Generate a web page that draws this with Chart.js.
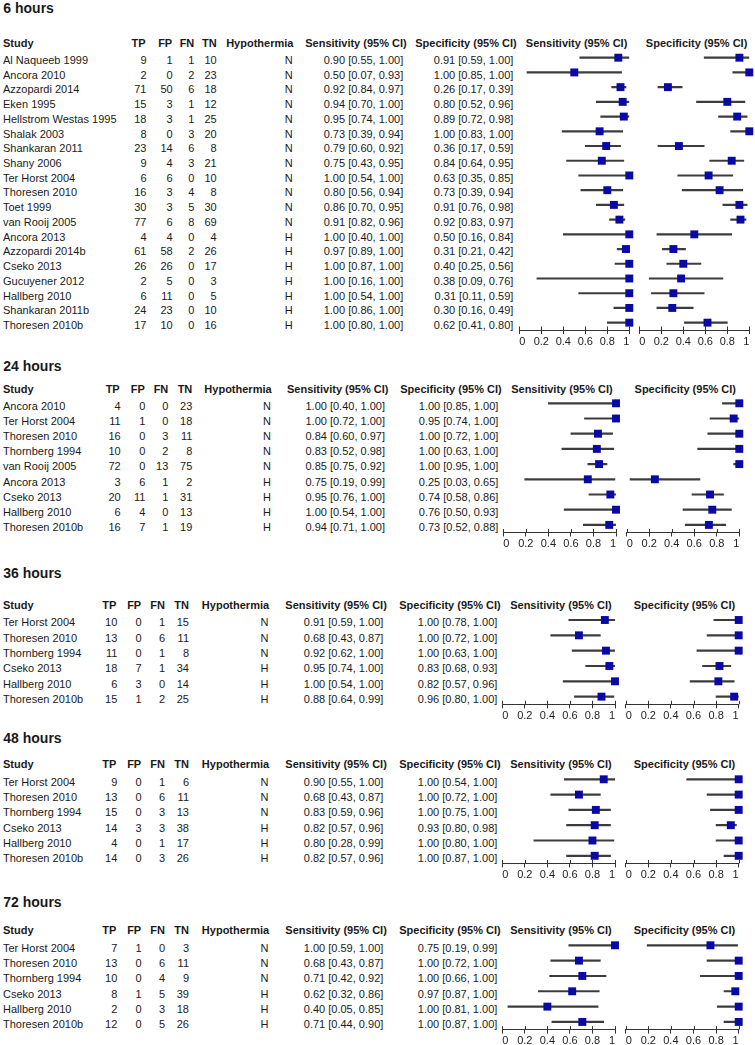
<!DOCTYPE html>
<html>
<head>
<meta charset="utf-8">
<script src="https://cdn.jsdelivr.net/npm/chart.js@4.4.1/dist/chart.umd.min.js"></script>
<style>
  body { margin: 0; background: #fff; }
  #page { position: relative; width: 755px; height: 1045px; overflow: hidden; background: #fff;
          font-family: "Liberation Sans", Arial, sans-serif; color: #1a1a1a; }
  .t { position: absolute; font-size: 11px; line-height: 14px; height: 14px; white-space: nowrap; }
  .b { font-weight: bold; }
  .ttl { position: absolute; font-size: 14px; line-height: 16px; font-weight: bold; white-space: nowrap; }
  canvas { position: absolute; }
</style>
</head>
<body>
<div id="page"></div>
<script>
// ---- data ----
const colHeads = ['Study', 'TP', 'FP', 'FN', 'TN', 'Hypothermia', 'Sensitivity (95% CI)', 'Specificity (95% CI)'];
const plotHeads = ['Sensitivity (95% CI)', 'Specificity (95% CI)'];
const axisTicks = [0, 0.2, 0.4, 0.6, 0.8, 1];

// 6 hours
const study6 = ['Al Naqueeb 1999', 'Ancora 2010', 'Azzopardi 2014', 'Eken 1995', 'Hellstrom Westas 1995',
  'Shalak 2003', 'Shankaran 2011', 'Shany 2006', 'Ter Horst 2004', 'Thoresen 2010', 'Toet 1999',
  'van Rooij 2005', 'Ancora 2013', 'Azzopardi 2014b', 'Cseko 2013', 'Gucuyener 2012', 'Hallberg 2010',
  'Shankaran 2011b', 'Thoresen 2010b'];
const tp6 = [9, 2, 71, 15, 18, 8, 23, 9, 6, 16, 30, 77, 4, 61, 26, 2, 6, 24, 17];
const fp6 = [1, 0, 50, 3, 3, 0, 14, 4, 6, 3, 3, 6, 4, 58, 26, 5, 11, 23, 10];
const fn6 = [1, 2, 6, 1, 1, 3, 6, 3, 0, 4, 5, 8, 0, 2, 0, 0, 0, 0, 0];
const tn6 = [10, 23, 18, 12, 25, 20, 8, 21, 10, 8, 30, 69, 4, 26, 17, 3, 5, 10, 16];
const hypo6 = ['N', 'N', 'N', 'N', 'N', 'N', 'N', 'N', 'N', 'N', 'N', 'N', 'H', 'H', 'H', 'H', 'H', 'H', 'H'];
const sens6 = [[0.90, 0.55, 1.00], [0.50, 0.07, 0.93], [0.92, 0.84, 0.97], [0.94, 0.70, 1.00], [0.95, 0.74, 1.00],
  [0.73, 0.39, 0.94], [0.79, 0.60, 0.92], [0.75, 0.43, 0.95], [1.00, 0.54, 1.00], [0.80, 0.56, 0.94],
  [0.86, 0.70, 0.95], [0.91, 0.82, 0.96], [1.00, 0.40, 1.00], [0.97, 0.89, 1.00], [1.00, 0.87, 1.00],
  [1.00, 0.16, 1.00], [1.00, 0.54, 1.00], [1.00, 0.86, 1.00], [1.00, 0.80, 1.00]];
const spec6 = [[0.91, 0.59, 1.00], [1.00, 0.85, 1.00], [0.26, 0.17, 0.39], [0.80, 0.52, 0.96], [0.89, 0.72, 0.98],
  [1.00, 0.83, 1.00], [0.36, 0.17, 0.59], [0.84, 0.64, 0.95], [0.63, 0.35, 0.85], [0.73, 0.39, 0.94],
  [0.91, 0.76, 0.98], [0.92, 0.83, 0.97], [0.50, 0.16, 0.84], [0.31, 0.21, 0.42], [0.40, 0.25, 0.56],
  [0.38, 0.09, 0.76], [0.31, 0.11, 0.59], [0.30, 0.16, 0.49], [0.62, 0.41, 0.80]];

// 24 hours
const study24 = ['Ancora 2010', 'Ter Horst 2004', 'Thoresen 2010', 'Thornberg 1994', 'van Rooij 2005',
  'Ancora 2013', 'Cseko 2013', 'Hallberg 2010', 'Thoresen 2010b'];
const tp24 = [4, 11, 16, 10, 72, 3, 20, 6, 16];
const fp24 = [0, 1, 0, 0, 0, 6, 11, 4, 7];
const fn24 = [0, 0, 3, 2, 13, 1, 1, 0, 1];
const tn24 = [23, 18, 11, 8, 75, 2, 31, 13, 19];
const hypo24 = ['N', 'N', 'N', 'N', 'N', 'H', 'H', 'H', 'H'];
const sens24 = [[1.00, 0.40, 1.00], [1.00, 0.72, 1.00], [0.84, 0.60, 0.97], [0.83, 0.52, 0.98], [0.85, 0.75, 0.92],
  [0.75, 0.19, 0.99], [0.95, 0.76, 1.00], [1.00, 0.54, 1.00], [0.94, 0.71, 1.00]];
const spec24 = [[1.00, 0.85, 1.00], [0.95, 0.74, 1.00], [1.00, 0.72, 1.00], [1.00, 0.63, 1.00], [1.00, 0.95, 1.00],
  [0.25, 0.03, 0.65], [0.74, 0.58, 0.86], [0.76, 0.50, 0.93], [0.73, 0.52, 0.88]];

// 36, 48 and 72 hours share the same studies
const studyLate = ['Ter Horst 2004', 'Thoresen 2010', 'Thornberg 1994', 'Cseko 2013', 'Hallberg 2010', 'Thoresen 2010b'];
const hypoLate = ['N', 'N', 'N', 'H', 'H', 'H'];

const tp36 = [10, 13, 11, 18, 6, 15];
const fp36 = [0, 0, 0, 7, 3, 1];
const fn36 = [1, 6, 1, 1, 0, 2];
const tn36 = [15, 11, 8, 34, 14, 25];
const sens36 = [[0.91, 0.59, 1.00], [0.68, 0.43, 0.87], [0.92, 0.62, 1.00], [0.95, 0.74, 1.00], [1.00, 0.54, 1.00], [0.88, 0.64, 0.99]];
const spec36 = [[1.00, 0.78, 1.00], [1.00, 0.72, 1.00], [1.00, 0.63, 1.00], [0.83, 0.68, 0.93], [0.82, 0.57, 0.96], [0.96, 0.80, 1.00]];

const tp48 = [9, 13, 15, 14, 4, 14];
const fp48 = [0, 0, 0, 3, 0, 0];
const fn48 = [1, 6, 3, 3, 1, 3];
const tn48 = [6, 11, 13, 38, 17, 26];
const sens48 = [[0.90, 0.55, 1.00], [0.68, 0.43, 0.87], [0.83, 0.59, 0.96], [0.82, 0.57, 0.96], [0.80, 0.28, 0.99], [0.82, 0.57, 0.96]];
const spec48 = [[1.00, 0.54, 1.00], [1.00, 0.72, 1.00], [1.00, 0.75, 1.00], [0.93, 0.80, 0.98], [1.00, 0.80, 1.00], [1.00, 0.87, 1.00]];

const tp72 = [7, 13, 10, 8, 2, 12];
const fp72 = [1, 0, 0, 1, 0, 0];
const fn72 = [0, 6, 4, 5, 3, 5];
const tn72 = [3, 11, 9, 39, 18, 26];
const sens72 = [[1.00, 0.59, 1.00], [0.68, 0.43, 0.87], [0.71, 0.42, 0.92], [0.62, 0.32, 0.86], [0.40, 0.05, 0.85], [0.71, 0.44, 0.90]];
const spec72 = [[0.75, 0.19, 0.99], [1.00, 0.72, 1.00], [1.00, 0.66, 1.00], [0.97, 0.87, 1.00], [1.00, 0.81, 1.00], [1.00, 0.87, 1.00]];

// ---- layout (pixel positions of each block on the page) ----
const PAGE_W = 755;
const FONT = '"Liberation Sans", Arial, sans-serif';
const lateCols = { tp: 117.3, fp: 141.7, fn: 165, tn: 189, hyp: 268.5, sens: 383.3, spec: 497.3 };
const lateSens = [502.3, 615], lateSpec = [625.7, 738.7];

const sections = [
  { title: '6 hours', study: study6, tp: tp6, fp: fp6, fn: fn6, tn: tn6, hypo: hypo6, sens: sens6, spec: spec6,
    pos: { titleY: 7.7, headY: 43.3, row0: 57.7, step: 14.72,
      cols: { tp: 146.5, fp: 172.7, fn: 194.3, tn: 216.7, hyp: 292.8, sens: 403.2, spec: 513.3 },
      sensX: [519.3, 629.3], specX: [639.3, 749.3] } },
  { title: '24 hours', study: study24, tp: tp24, fp: fp24, fn: fn24, tn: tn24, hypo: hypo24, sens: sens24, spec: spec24,
    pos: { titleY: 365.7, headY: 389, row0: 403.3, step: 15.2,
      cols: { tp: 120.7, fp: 145.3, fn: 168.3, tn: 192.3, hyp: 271, sens: 385, spec: 498.3 },
      sensX: [503.3, 616], specX: [626.7, 739.3] } },
  { title: '36 hours', study: studyLate, tp: tp36, fp: fp36, fn: fn36, tn: tn36, hypo: hypoLate, sens: sens36, spec: spec36,
    pos: { titleY: 573, headY: 605.3, row0: 620, step: 15.33, cols: lateCols, sensX: lateSens, specX: lateSpec } },
  { title: '48 hours', study: studyLate, tp: tp48, fp: fp48, fn: fn48, tn: tn48, hypo: hypoLate, sens: sens48, spec: spec48,
    pos: { titleY: 737.7, headY: 764.3, row0: 779.3, step: 15.3, cols: lateCols, sensX: lateSens, specX: lateSpec } },
  { title: '72 hours', study: studyLate, tp: tp72, fp: fp72, fn: fn72, tn: tn72, hypo: hypoLate, sens: sens72, spec: spec72,
    pos: { titleY: 901.7, headY: 929.5, row0: 945.3, step: 15.33, cols: lateCols, sensX: lateSens, specX: lateSpec } }
];

const page = document.getElementById('page');

function fmt(v) {
  return v[0].toFixed(2) + ' [' + v[1].toFixed(2) + ', ' + v[2].toFixed(2) + ']';
}

// put a line of text; align: 'left' | 'right' | 'center'
function text(str, x, y, align, cls) {
  const d = document.createElement('div');
  d.className = cls || 't';
  d.textContent = str;
  const h = cls === 'ttl' ? 16 : 14;
  d.style.top = (y - h / 2) + 'px';
  if (align === 'right') {
    d.style.right = (PAGE_W - x) + 'px';
  } else if (align === 'center') {
    d.style.left = (x - 80) + 'px';
    d.style.width = '160px';
    d.style.textAlign = 'center';
  } else {
    d.style.left = x + 'px';
  }
  page.appendChild(d);
}

// small tick marks above the axis line (the reference ticks cross the line)
const crossTicks = {
  id: 'crossTicks',
  beforeDatasetsDraw(chart) {
    const sx = chart.scales.x;
    const ctx = chart.ctx;
    ctx.save();
    ctx.strokeStyle = '#333';
    ctx.lineWidth = 1;
    sx.ticks.forEach(t => {
      const px = Math.round(sx.getPixelForValue(t.value)) + 0.5;
      ctx.beginPath();
      ctx.moveTo(px, sx.top - 3.5);
      ctx.lineTo(px, sx.top);
      ctx.stroke();
    });
    ctx.restore();
  }
};

const PADX = 7, PADT = 6, AXIS_H = 17;

function forest(vals, xr, pos) {
  const n = vals.length;
  const areaTop = pos.row0 - pos.step / 2;
  const areaH = n * pos.step;
  const left = Math.round(xr[0] - PADX);
  const right = Math.round(xr[1] + PADX);
  const top = Math.round(areaTop - PADT);
  const padTop = areaTop - top;
  const height = Math.ceil(padTop + areaH + AXIS_H + 1);

  const canvas = document.createElement('canvas');
  canvas.width = right - left;
  canvas.height = height;
  canvas.style.left = left + 'px';
  canvas.style.top = top + 'px';
  page.appendChild(canvas);

  new Chart(canvas.getContext('2d'), {
    type: 'bar',
    data: {
      datasets: [
        {
          type: 'bar',
          data: vals.map((v, i) => ({ y: i, x: [v[1], v[2]] })),
          backgroundColor: '#3c3c3c',
          borderWidth: 0,
          barThickness: 1.5,
          order: 2
        },
        {
          type: 'scatter',
          data: vals.map((v, i) => ({ x: v[0], y: i })),
          pointStyle: 'rect',
          pointRadius: 5.6,
          backgroundColor: '#0909a6',
          borderWidth: 0,
          clip: false,
          order: 1
        }
      ]
    },
    options: {
      indexAxis: 'y',
      responsive: false,
      animation: false,
      events: [],
      plugins: { legend: { display: false }, tooltip: { enabled: false } },
      layout: {
        padding: { left: xr[0] - left, right: right - xr[1], top: padTop, bottom: height - padTop - areaH - AXIS_H }
      },
      scales: {
        x: {
          type: 'linear',
          min: 0,
          max: 1,
          afterBuildTicks: s => { s.ticks = axisTicks.map(v => ({ value: v })); },
          afterFit: s => { s.height = AXIS_H; },
          ticks: {
            align: 'inner',
            autoSkip: false,
            maxRotation: 0,
            padding: 1,
            color: '#222',
            font: { family: FONT, size: 11 },
            callback: v => String(v)
          },
          grid: { drawOnChartArea: false, drawTicks: true, tickLength: 4, color: '#333', lineWidth: 1 },
          border: { color: '#333', width: 1 }
        },
        y: {
          type: 'linear',
          min: -0.5,
          max: n - 0.5,
          reverse: true,
          offset: false,
          display: false
        }
      }
    },
    plugins: [crossTicks]
  });
}

sections.forEach(sec => {
  const p = sec.pos;
  const c = p.cols;
  text(sec.title, 3.3, p.titleY, 'left', 'ttl');

  // column headers
  const hy = p.headY;
  text(colHeads[0], 3, hy, 'left', 't b');
  text(colHeads[1], c.tp - 1, hy, 'right', 't b');
  text(colHeads[2], c.fp - 0.5, hy, 'right', 't b');
  text(colHeads[3], c.fn, hy, 'right', 't b');
  text(colHeads[4], c.tn, hy, 'right', 't b');
  text(colHeads[5], c.hyp + 0.6, hy, 'right', 't b');
  text(colHeads[6], c.sens + 3.5, hy, 'right', 't b');
  text(colHeads[7], c.spec + 3.4, hy, 'right', 't b');
  text(plotHeads[0], (p.sensX[0] + p.sensX[1]) / 2 + 2.3, hy, 'center', 't b');
  text(plotHeads[1], (p.specX[0] + p.specX[1]) / 2 + 2.3, hy, 'center', 't b');

  // table rows
  sec.study.forEach((name, i) => {
    const y = p.row0 + i * p.step + 2.3;
    text(name, 3, y, 'left');
    text(String(sec.tp[i]), c.tp, y, 'right');
    text(String(sec.fp[i]), c.fp, y, 'right');
    text(String(sec.fn[i]), c.fn, y, 'right');
    text(String(sec.tn[i]), c.tn, y, 'right');
    text(sec.hypo[i], c.hyp, y, 'right');
    text(fmt(sec.sens[i]), c.sens, y, 'right');
    text(fmt(sec.spec[i]), c.spec, y, 'right');
  });

  forest(sec.sens, p.sensX, p);
  forest(sec.spec, p.specX, p);
});
</script>
</body>
</html>
